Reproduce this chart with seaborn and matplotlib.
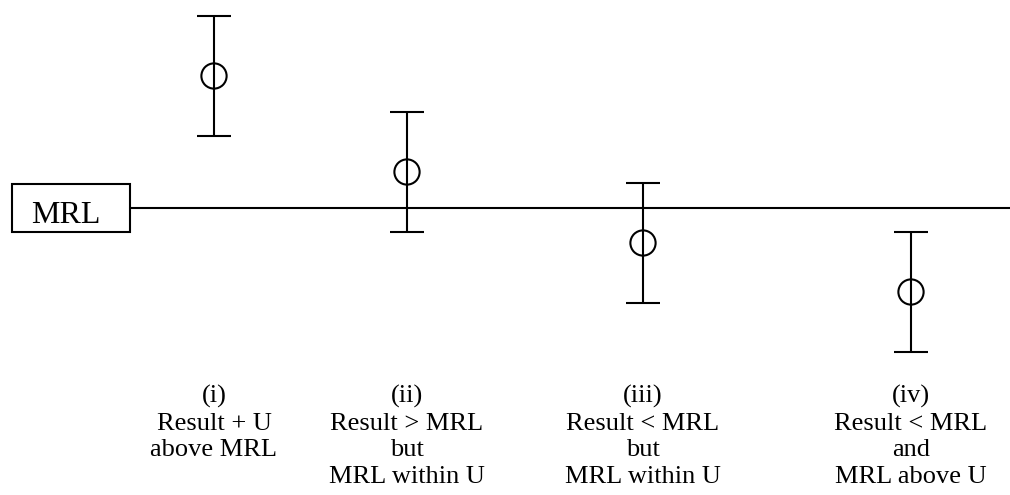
import matplotlib
matplotlib.use("Agg")
import matplotlib.pyplot as plt
from matplotlib.patches import Rectangle
import pandas as pd
import seaborn as sns


# DATA (result values relative to the MRL, with expanded uncertainty U)

cases = ["(i)", "(ii)", "(iii)", "(iv)"]
x_pos = [214, 407, 643, 911]
results = [13.2, 3.6, -3.5, -8.4]
uncertainty = [6.0, 6.0, 6.0, 6.0]
mrl = 0.0
descriptions = [
    "Result + U\nabove MRL",
    "Result > MRL\nbut\nMRL within U",
    "Result < MRL\nbut\nMRL within U",
    "Result < MRL\nand\nMRL above U",
]

df = pd.DataFrame({"case": cases, "x": x_pos, "result": results, "U": uncertainty})


# PLOT

sns.set_theme(style="white")
plt.rcParams["font.family"] = ["Liberation Serif", "DejaVu Serif"]

fig = plt.figure(figsize=(10.10, 4.95), dpi=100)
ax = fig.add_axes([0, 0, 1, 1])
ax.set_xlim(0, 1010)
ax.set_ylim(-28.7, 20.8)
ax.axis("off")

# MRL reference line
ax.axhline(mrl, xmin=130 / 1010, xmax=1, color="black", lw=1.5)

# error bars
ax.errorbar(df["x"], df["result"], yerr=df["U"], fmt="none",
            ecolor="black", elinewidth=1.5, capsize=12.5, capthick=1.5)

# result markers
sns.scatterplot(data=df, x="x", y="result", ax=ax, marker="o", s=330,
                facecolor="none", edgecolor="black", linewidth=1.5,
                legend=False, zorder=3)

# MRL label box
fig.patches.append(Rectangle((12 / 1010, 1 - 232 / 495), 118 / 1010, 48 / 495,
                             transform=fig.transFigure, fill=False,
                             edgecolor="black", lw=1.5))
fig.text(66 / 1010, 1 - 223 / 495, "MRL", ha="center", va="baseline",
         fontsize=23, color="black")

# case descriptions
for x, case, desc in zip(df["x"], cases, descriptions):
    fig.text(x / 1010, 1 - 385 / 495, case + "\n" + desc, ha="center", va="top",
             fontsize=19, linespacing=1.27, color="black")

fig.savefig("out.png", dpi=100, facecolor="white")
